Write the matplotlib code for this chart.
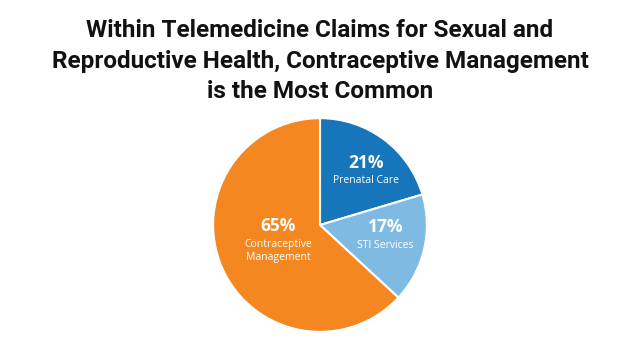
import matplotlib
matplotlib.use("Agg")
import matplotlib.pyplot as plt
import numpy as np

categories = ["Prenatal Care", "STI Services", "Contraceptive\nManagement"]
values = [21, 17, 65]
pct_labels = ["21%", "17%", "65%"]
colors = ["#1675bb", "#7fbae3", "#f58720"]
# label anchor positions inside the pie (fraction of radius)
label_xy = [(0.43, 0.50), (0.615, -0.105), (-0.394, -0.096)]

title = ("Within Telemedicine Claims for Sexual and\n"
         "Reproductive Health, Contraceptive Management\n"
         "is the Most Common")

W, H = 640, 358
fig = plt.figure(figsize=(W / 100, H / 100), dpi=100)
fig.patch.set_facecolor("white")

cx, cy, R = 320, 225, 109
ax = fig.add_axes([(cx - R) / W, (H - cy - R) / H, 2 * R / W, 2 * R / H])
wedges, _ = ax.pie(values, colors=colors, startangle=90, counterclock=False,
                   radius=1.0,
                   wedgeprops=dict(edgecolor="white", linewidth=1.5))
ax.set_xlim(-1.02, 1.02)
ax.set_ylim(-1.02, 1.02)
ax.set_aspect("equal")
ax.axis("off")

gap = 4 / R
for pct, cat, (x, y) in zip(pct_labels, categories, label_xy):
    ax.text(x, y + gap, pct, ha="center", va="baseline", color="white",
            fontsize=12.5, fontweight="bold", family="Open Sans")
    ax.text(x, y - gap, cat, ha="center", va="top", color="white",
            fontsize=7.5, family="Open Sans", linespacing=1.25)

fig.text(0.5, 1 - 19 / H, title, ha="center", va="top", fontsize=17.5,
         fontweight="bold", family="Roboto", linespacing=1.42, color="#111111")

fig.savefig("out.png", dpi=100, facecolor="white")
